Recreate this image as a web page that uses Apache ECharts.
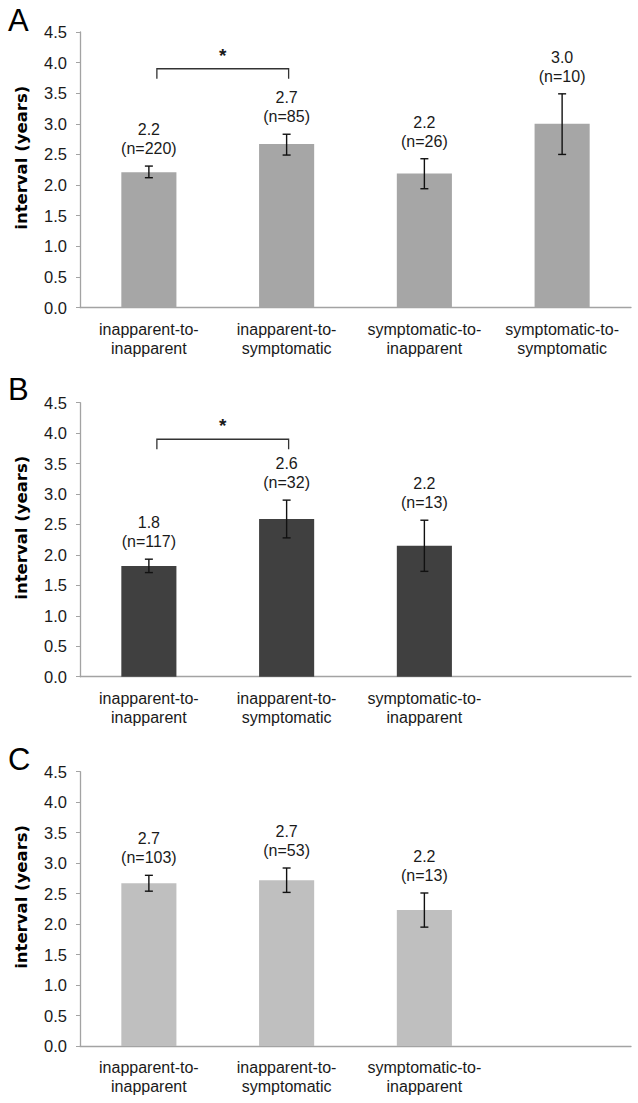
<!DOCTYPE html>
<html>
<head>
<meta charset="utf-8">
<script src="https://cdn.jsdelivr.net/npm/echarts@6/dist/echarts.min.js"></script>
<style>
html,body{margin:0;padding:0;background:#fff;}
#chart{width:638px;height:1103px;}
</style>
</head>
<body>
<div id="chart"></div>
<script>
// ---------- data ----------
const categoriesA = ['inapparent-to-\ninapparent', 'inapparent-to-\nsymptomatic', 'symptomatic-to-\ninapparent', 'symptomatic-to-\nsymptomatic'];
const categoriesBC = ['inapparent-to-\ninapparent', 'inapparent-to-\nsymptomatic', 'symptomatic-to-\ninapparent', ''];
const yTicks = [0, 0.5, 1.0, 1.5, 2.0, 2.5, 3.0, 3.5, 4.0, 4.5];

const meanA = [2.21, 2.67, 2.19, 3.00];
const lowA  = [2.12, 2.49, 1.94, 2.50];
const highA = [2.31, 2.83, 2.43, 3.49];
const textA = ['2.2', '2.7', '2.2', '3.0'];
const nA    = [220, 85, 26, 10];

const meanB = [1.82, 2.59, 2.15];
const lowB  = [1.71, 2.28, 1.73];
const highB = [1.93, 2.90, 2.57];
const textB = ['1.8', '2.6', '2.2'];
const nB    = [117, 32, 13];

const meanC = [2.67, 2.72, 2.23];
const lowC  = [2.54, 2.52, 1.95];
const highC = [2.80, 2.92, 2.51];
const textC = ['2.7', '2.7', '2.2'];
const nC    = [103, 53, 13];

// significance brackets: [fromCategory, toCategory, level]
const sigA = [[0, 1, 3.9]];
const sigB = [[0, 1, 3.9]];

const panelLetters = ['A', 'B', 'C'];
const yTitle = 'interval (years)';

// ---------- styling ----------
const FONT = '"Liberation Sans", Arial, sans-serif';
const TFONT = '"DejaVu Sans", "Liberation Sans", Arial, sans-serif';
const TXT = '#1a1a1a';
const AXIS = '#a3a3a3';
const colors = ['#a6a6a6', '#404040', '#bfbfbf'];

const grids = [
  {left: 80, right: 7, top: 32, height: 275.5},
  {left: 80, right: 7, top: 402.7, height: 274},
  {left: 80, right: 7, top: 771.7, height: 274.3}
];

function xAxisFor(i, cats) {
  return {
    type: 'category', gridIndex: i, data: cats,
    axisLine: {lineStyle: {color: AXIS, width: 1.3}},
    axisTick: {show: false},
    axisLabel: {interval: 0, margin: 12, color: TXT, fontFamily: FONT, fontSize: 16, lineHeight: 19}
  };
}
function yAxisFor(i) {
  return {
    type: 'value', gridIndex: i, min: yTicks[0], max: yTicks[yTicks.length - 1], interval: 0.5,
    splitLine: {show: false},
    axisLine: {show: true, lineStyle: {color: AXIS, width: 1.3}},
    axisTick: {show: true, length: 4, lineStyle: {color: AXIS}},
    axisLabel: {margin: 13, color: TXT, fontFamily: FONT, fontSize: 16.5, formatter: v => v.toFixed(1)},
    name: yTitle, nameLocation: 'middle', nameGap: 50,
    nameTextStyle: {fontFamily: TFONT, fontWeight: 'bold', fontSize: 16.5, color: '#000', padding: [0, 0, 0, 24]}
  };
}

function barSeries(i, means) {
  return {
    type: 'bar', xAxisIndex: i, yAxisIndex: i, data: means, barWidth: '40%',
    itemStyle: {color: colors[i]}, silent: true
  };
}

function errSeries(i, lows, highs, texts, ns) {
  return {
    type: 'custom', xAxisIndex: i, yAxisIndex: i, silent: true, z: 5,
    data: lows.map((l, k) => [k, l, highs[k]]),
    renderItem: function (params, api) {
      const k = params.dataIndex;
      const pHi = api.coord([api.value(0), api.value(2)]);
      const pLo = api.coord([api.value(0), api.value(1)]);
      const x = pHi[0];
      const ls = {stroke: '#111', lineWidth: 1.4};
      return {
        type: 'group', children: [
          {type: 'line', shape: {x1: x, y1: pHi[1], x2: x, y2: pLo[1]}, style: ls},
          {type: 'line', shape: {x1: x - 4, y1: pHi[1], x2: x + 4, y2: pHi[1]}, style: ls},
          {type: 'line', shape: {x1: x - 4, y1: pLo[1], x2: x + 4, y2: pLo[1]}, style: ls},
          {type: 'text', style: {
            text: texts[k] + '\n(n=' + ns[k] + ')', x: x, y: pHi[1] - 8,
            align: 'center', verticalAlign: 'bottom', lineHeight: 19,
            font: '16px ' + FONT, fill: TXT
          }}
        ]
      };
    }
  };
}

function sigSeries(i, sig) {
  return {
    type: 'custom', xAxisIndex: i, yAxisIndex: i, silent: true, z: 5,
    data: sig,
    renderItem: function (params, api) {
      const p0 = api.coord([api.value(0), api.value(2)]);
      const p1 = api.coord([api.value(1), api.value(2)]);
      const x0 = p0[0] + 8, x1 = p1[0] + 2, y = p0[1];
      return {
        type: 'group', children: [
          {type: 'polyline', shape: {points: [[x0, y + 10], [x0, y], [x1, y], [x1, y + 10]]},
           style: {stroke: '#333', lineWidth: 1.3, fill: null}},
          {type: 'text', style: {text: '*', x: (x0 + x1) / 2, y: y - 4, align: 'center', verticalAlign: 'bottom',
            font: 'bold 19px ' + FONT, fill: TXT}}
        ]
      };
    }
  };
}

const option = {
  animation: false,
  backgroundColor: '#fff',
  title: panelLetters.map((t, i) => ({
    text: t, left: 3, top: [0, 369, 739][i],
    textStyle: {fontFamily: FONT, fontWeight: 'normal', fontSize: 31, color: '#000'}
  })),
  grid: grids,
  xAxis: [xAxisFor(0, categoriesA), xAxisFor(1, categoriesBC), xAxisFor(2, categoriesBC)],
  yAxis: [yAxisFor(0), yAxisFor(1), yAxisFor(2)],
  series: [
    barSeries(0, meanA), errSeries(0, lowA, highA, textA, nA), sigSeries(0, sigA),
    barSeries(1, meanB), errSeries(1, lowB, highB, textB, nB), sigSeries(1, sigB),
    barSeries(2, meanC), errSeries(2, lowC, highC, textC, nC)
  ]
};

const chart = echarts.init(document.getElementById('chart'), null, {renderer: 'svg'});
chart.setOption(option);
</script>
</body>
</html>
